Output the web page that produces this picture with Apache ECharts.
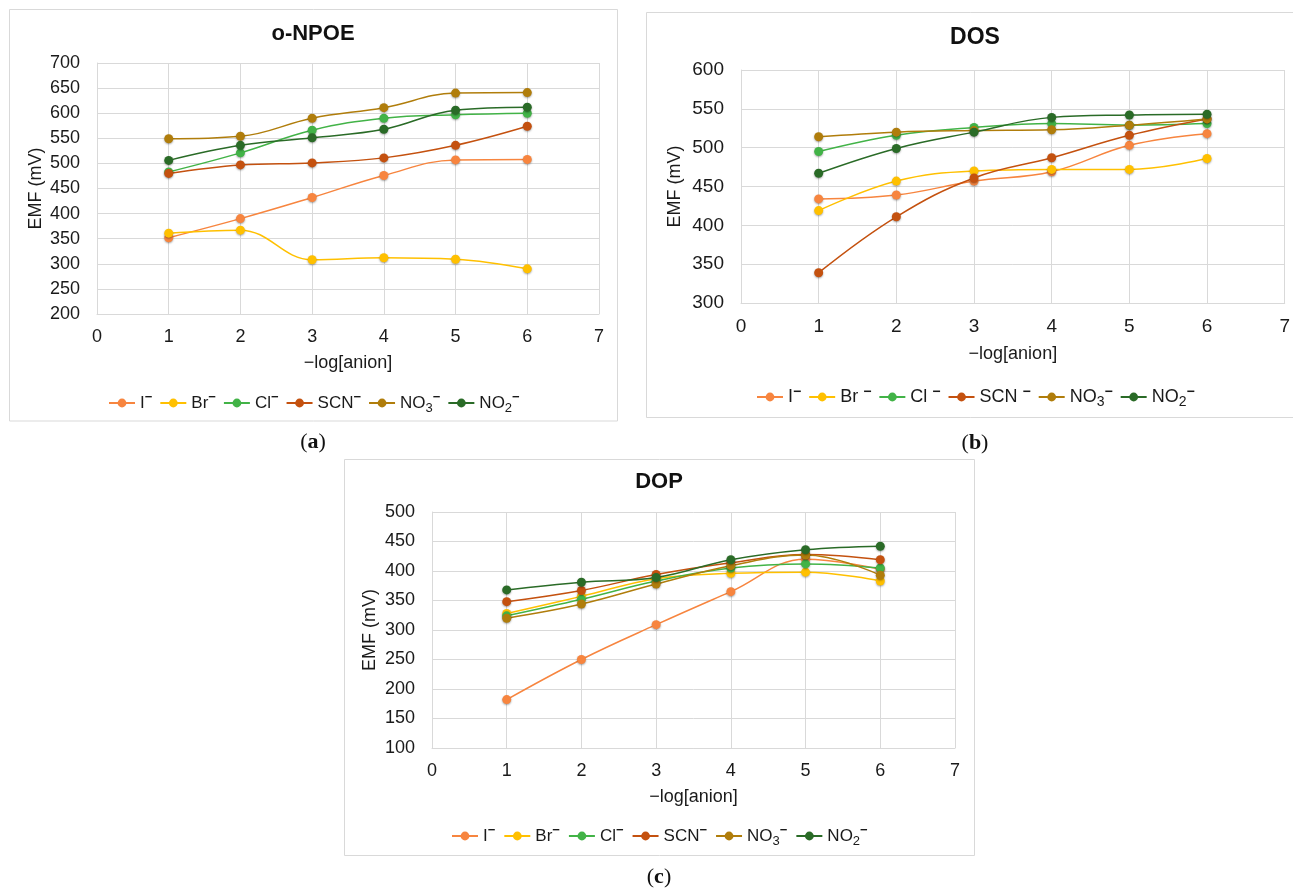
<!DOCTYPE html>
<html lang="en">
<head>
<meta charset="utf-8">
<title>EMF vs -log[anion]</title>
<script src="https://cdn.jsdelivr.net/npm/echarts@6/dist/echarts.min.js"></script>
<style>
    html, body { height: 100%; margin: 0; background: #fff; }
</style>
</head>
<body>
<div id="main" style="width:1293px;height:890px;"></div>
<script>
    // x values (-log[anion]) and series names
    var logAnion = [1, 2, 3, 4, 5, 6];
    var ionNames = ['I⁻', 'Br⁻', 'Cl⁻', 'SCN⁻', 'NO₃⁻', 'NO₂⁻'];
    var panelTitles = ['o-NPOE', 'DOS', 'DOP'];
    var panelCaptions = ['a', 'b', 'c'];
    var yMin = [200, 300, 100];
    var yMax = [700, 600, 500];

    // (a) o-NPOE, EMF in mV
    var npoeI   = [352, 390, 432, 476, 507, 508];
    var npoeBr  = [361, 367, 308, 312, 309, 290];
    var npoeCl  = [483, 521, 566, 590, 597, 600];
    var npoeSCN = [480, 497, 501, 511, 536, 574];
    var npoeNO3 = [549, 554, 590, 611, 640, 641];
    var npoeNO2 = [506, 536, 551, 568, 606, 612];

    // (b) DOS
    var dosI   = [434, 439, 457, 469, 503, 518];
    var dosBr  = [419, 457, 470, 472, 472, 486];
    var dosCl  = [495, 516, 526, 531, 529, 531];
    var dosSCN = [339, 411, 461, 487, 516, 537];
    var dosNO3 = [514, 520, 522, 523, 529, 537];
    var dosNO2 = [467, 499, 520, 539, 542, 543];

    // (c) DOP
    var dopI   = [182, 250, 309, 365, 420, 403];
    var dopBr  = [328, 357, 387, 396, 398, 383];
    var dopCl  = [324, 352, 383, 405, 412, 405];
    var dopSCN = [348, 367, 394, 414, 428, 419];
    var dopNO3 = [320, 344, 378, 409, 427, 393];
    var dopNO2 = [368, 381, 389, 419, 436, 442];

    var panelData = [
        [npoeI, npoeBr, npoeCl, npoeSCN, npoeNO3, npoeNO2],
        [dosI, dosBr, dosCl, dosSCN, dosNO3, dosNO2],
        [dopI, dopBr, dopCl, dopSCN, dopNO3, dopNO2]
    ];

    var colors = ['#F7853F', '#FFC000', '#42B347', '#C4510F', '#B07D0B', '#2A6B27'];
    var font = '"Liberation Sans", Arial, sans-serif';
    var textColor = '#1a1a1a';
    var gridColor = '#d9d9d9';

    // layout per panel
    var grids = [
        { left: 97, top: 63, width: 502, height: 251 },
        { left: 741, top: 70, width: 546, height: 233 },
        { left: 432, top: 512, width: 523, height: 236 }
    ];
    var boxes = [
        { x: 9.5, y: 9.5, w: 608, h: 411.5 },
        { x: 646.5, y: 12.5, w: 660, h: 405 },
        { x: 344.5, y: 459.5, w: 630, h: 396 }
    ];
    var centers = [313, 975, 659];
    var titleSize = [22, 23, 22];
    var titleTops = [23, 26, 471];
    var tickSize = [18, 19, 18];
    var legendSize = [17, 18, 17];
    var legendGap = [7, 7, 8];
    var legendLeft = [108, 756, 451];
    var legendTop = [391, 385, 824];
    var captionY = [442, 443, 877];
    var yNameGap = [52, 57, 53];
    var xNameGap = [40, 42, 40];

    // legend labels with super/subscripts (panel b has a space before the charge)
    function legendRich(size) {
        return {
            n: { fontSize: size, fontFamily: font, color: textColor, lineHeight: 24, verticalAlign: 'middle' },
            sup: { fontSize: size - 4, fontWeight: 'bold', fontFamily: font, color: textColor, lineHeight: 12, verticalAlign: 'top' },
            sub: { fontSize: size - 4, fontFamily: font, color: textColor, lineHeight: 12, verticalAlign: 'bottom' }
        };
    }
    var legendLabels = {
        'I⁻': '{n|I}{sup|−}',
        'Br⁻': '{n|Br}{sup|−}',
        'Cl⁻': '{n|Cl}{sup|−}',
        'SCN⁻': '{n|SCN}{sup|−}',
        'NO₃⁻': '{n|NO}{sub|3}{sup|−}',
        'NO₂⁻': '{n|NO}{sub|2}{sup|−}'
    };
    var legendLabelsSpaced = {
        'I⁻': '{n|I}{sup|−}',
        'Br⁻': '{n|Br }{sup|−}',
        'Cl⁻': '{n|Cl }{sup|−}',
        'SCN⁻': '{n|SCN }{sup|−}',
        'NO₃⁻': '{n|NO}{sub|3}{sup|−}',
        'NO₂⁻': '{n|NO}{sub|2}{sup|−}'
    };

    var option = {
        animation: false,
        backgroundColor: '#fff',
        title: [],
        legend: [],
        grid: [],
        xAxis: [],
        yAxis: [],
        series: [],
        graphic: []
    };

    for (var p = 0; p < 3; p++) {
        var labels = p == 1 ? legendLabelsSpaced : legendLabels;
        option.title.push({
            text: panelTitles[p],
            left: centers[p],
            top: titleTops[p],
            textAlign: 'center',
            padding: 0,
            textStyle: { fontFamily: font, fontSize: titleSize[p], fontWeight: 'bold', color: '#111' }
        });
        option.grid.push(Object.assign({ show: false }, grids[p]));
        option.xAxis.push({
            gridIndex: p,
            type: 'value',
            min: 0,
            max: 7,
            interval: 1,
            name: '−log[anion]',
            nameLocation: 'middle',
            nameGap: xNameGap[p],
            nameTextStyle: { fontFamily: font, fontSize: 18, color: textColor },
            axisLine: { show: true, lineStyle: { color: gridColor } },
            axisTick: { show: false },
            axisLabel: { fontFamily: font, fontSize: tickSize[p], color: textColor, margin: 14 },
            splitLine: { show: true, lineStyle: { color: gridColor } }
        });
        option.yAxis.push({
            gridIndex: p,
            type: 'value',
            min: yMin[p],
            max: yMax[p],
            interval: 50,
            name: 'EMF (mV)',
            nameLocation: 'middle',
            nameGap: yNameGap[p],
            nameTextStyle: { fontFamily: font, fontSize: 18, color: textColor },
            axisLine: { show: true, lineStyle: { color: gridColor } },
            axisTick: { show: false },
            axisLabel: { fontFamily: font, fontSize: tickSize[p], color: textColor, margin: 17 },
            splitLine: { show: true, lineStyle: { color: gridColor } }
        });
        option.legend.push({
            data: ionNames,
            left: legendLeft[p],
            top: legendTop[p],
            padding: 0,
            itemWidth: 26,
            itemHeight: 11,
            itemGap: legendGap[p],
            itemStyle: { borderWidth: 0 },
            formatter: (function (lab) {
                return function (name) { return lab[name]; };
            })(labels),
            textStyle: { fontFamily: font, fontSize: legendSize[p], color: textColor, rich: legendRich(legendSize[p]) }
        });
        for (var i = 0; i < ionNames.length; i++) {
            var vals = panelData[p][i];
            option.series.push({
                name: ionNames[i],
                type: 'line',
                xAxisIndex: p,
                yAxisIndex: p,
                data: logAnion.map(function (x, k) { return [x, vals[k]]; }),
                smooth: 0.4,
                symbol: 'circle',
                symbolSize: 9,
                lineStyle: { width: 1.5, color: colors[i] },
                itemStyle: { color: colors[i], shadowBlur: 2, shadowColor: 'rgba(0,0,0,0.35)', shadowOffsetY: 1 },
                emphasis: { disabled: true }
            });
        }
        // panel frame and caption
        option.graphic.push({
            type: 'rect',
            silent: true,
            shape: { x: boxes[p].x, y: boxes[p].y, width: boxes[p].w, height: boxes[p].h },
            style: { fill: null, stroke: gridColor, lineWidth: 1 }
        });
        option.graphic.push({
            type: 'text',
            silent: true,
            x: centers[p],
            y: captionY[p],
            style: {
                text: '{p|(}{b|' + panelCaptions[p] + '}{p|)}',
                align: 'center',
                verticalAlign: 'middle',
                rich: {
                    p: { fontFamily: '"Liberation Serif", "DejaVu Serif", serif', fontSize: 22, fill: '#111' },
                    b: { fontFamily: '"Liberation Serif", "DejaVu Serif", serif', fontSize: 22, fontWeight: 'bold', fill: '#111' }
                }
            }
        });
    }

    var myChart = echarts.init(document.getElementById('main'), null, { renderer: 'canvas' });
    myChart.setOption(option);
</script>
</body>
</html>
